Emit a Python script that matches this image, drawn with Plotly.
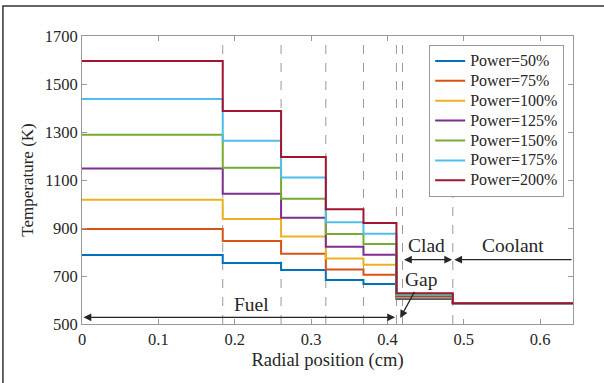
import plotly.graph_objects as go

# Region boundaries (cm)
boundaries = [0, 0.1843, 0.2607, 0.3193, 0.3686, 0.4118, 0.4856, 0.643]
dashed_x = [0.1843, 0.2607, 0.3193, 0.3686, 0.4118, 0.4197, 0.4856]

series_names = ["Power=50%", "Power=75%", "Power=100%", "Power=125%",
                "Power=150%", "Power=175%", "Power=200%"]
colors = ["#0072BD", "#D95319", "#EDB120", "#7E2F8E", "#77AC30", "#4DBEEE", "#A2142F"]

# temperature (K) in each region: fuel rings 1-5, clad (with gap), coolant
p50 = [787, 754, 725, 683, 667, 604, 586]
p75 = [896, 846, 793, 727, 705, 608, 586]
p100 = [1018, 938, 865, 773, 747, 612, 586]
p125 = [1148, 1043, 943, 822, 789, 616, 586]
p150 = [1289, 1151, 1022, 875, 833, 620, 586]
p175 = [1438, 1264, 1110, 924, 876, 624, 586]
p200 = [1596, 1388, 1196, 978, 921, 628, 586]
series_values = [p50, p75, p100, p125, p150, p175, p200]

x_ticks = [0, 0.1, 0.2, 0.3, 0.4, 0.5, 0.6]
y_ticks = [500, 700, 900, 1100, 1300, 1500, 1700]

FONT = "Liberation Serif"
TXT = "#262626"

fig = go.Figure()
for name, vals, col in zip(series_names, series_values, colors):
    fig.add_trace(go.Scatter(
        x=boundaries, y=vals + [vals[-1]], mode="lines",
        name=f'<span style="font-size:16px">{name}</span>',
        line=dict(color=col, width=2, shape="hv")))

for xv in dashed_x:
    fig.add_shape(type="line", xref="x", yref="paper", x0=xv, x1=xv, y0=0, y1=1,
                  line=dict(color="#9a9a9a", width=1, dash="dash"), layer="below")

# outer frame
fig.add_shape(type="rect", xref="paper", yref="paper", x0=-0.161, x1=1.1, y0=-0.25, y1=1.104,
              line=dict(color="#333333", width=1.5), fillcolor="rgba(0,0,0,0)")

arrow_col = "#262626"
def arrow(x, y, ax, ay, both=False):
    fig.add_annotation(x=x, y=y, ax=ax, ay=ay, xref="x", yref="y", axref="x", ayref="y",
                       text="", showarrow=True, arrowhead=2, arrowsize=1.2, arrowwidth=1.3,
                       arrowcolor=arrow_col, arrowside="end+start" if both else "end",
                       startarrowhead=2, startarrowsize=1.2, standoff=0, startstandoff=0)

arrow(0.410, 528, 0.0, 528, both=True)
arrow(0.4847, 768, 0.4197, 768, both=True)
arrow(0.4875, 768, 0.643, 768)
arrow(0.4167, 525, 0.4364, 640)

def label(x, y, t):
    fig.add_annotation(x=x, y=y, xref="x", yref="y", text=t, showarrow=False,
                       font=dict(family=FONT, size=19.5, color=TXT))

label(0.222, 583, "Fuel")
label(0.4515, 828, "Clad")
label(0.565, 828, "Coolant")
label(0.444, 686, "Gap")

axis_common = dict(showline=True, mirror="ticks", ticks="inside", ticklen=5,
                   linecolor="#999999", tickcolor="#999999", linewidth=1,
                   showgrid=False, zeroline=False,
                   tickfont=dict(family=FONT, size=16.5, color=TXT))

fig.update_layout(
    width=604, height=383,
    margin=dict(l=82, r=31, t=36, b=59),
    paper_bgcolor="white", plot_bgcolor="white",
    font=dict(family=FONT, color=TXT),
    xaxis=dict(range=[0, 0.643], tickvals=x_ticks, ticktext=[str(v) for v in x_ticks],
               title=dict(text="Radial position (cm)", font=dict(family=FONT, size=18.5, color=TXT),
                          standoff=5),
               **axis_common),
    yaxis=dict(range=[500, 1700], tickvals=y_ticks,
               title=dict(text="Temperature (K)", font=dict(family=FONT, size=17, color=TXT),
                          standoff=6),
               **axis_common),
    legend=dict(x=0.982, y=0.969, xanchor="right", yanchor="top",
                bgcolor="white", bordercolor="#999999", borderwidth=1,
                font=dict(family=FONT, size=13, color=TXT),
                tracegroupgap=0, itemwidth=30),
    showlegend=True,
)

fig.write_html("out.html", config={"displayModeBar": False},
               post_script="document.body.style.margin='0px';")
